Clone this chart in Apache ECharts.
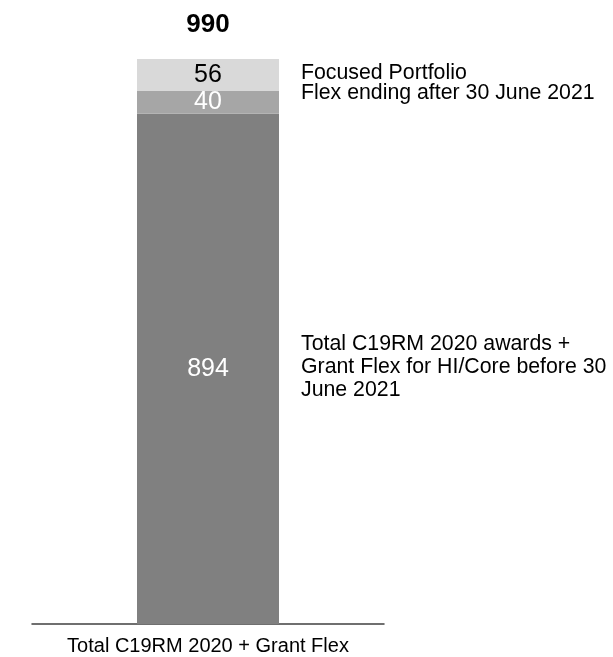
<!DOCTYPE html>
<html>
<head>
<meta charset="utf-8">
<script src="https://cdn.jsdelivr.net/npm/echarts@6/dist/echarts.min.js"></script>
<style>
html,body{margin:0;padding:0;background:#fff;}
#chart{width:613px;height:657px;}
</style>
</head>
<body>
<div id="chart"></div>
<script>
var categories = ['Total C19RM 2020 + Grant Flex'];
var seriesNames = ['Total C19RM 2020 awards + Grant Flex for HI/Core before 30 June 2021', 'Flex ending after 30 June 2021', 'Focused Portfolio'];
var baseValues = [894];
var flexValues = [40];
var focusedValues = [56];
var segmentLabels = ['Total C19RM 2020 awards +\nGrant Flex for HI/Core before 30\nJune 2021', 'Flex ending after 30 June 2021', 'Focused Portfolio'];

var allSeries = [baseValues, flexValues, focusedValues];
var colors = ['#808080', '#a6a6a6', '#d9d9d9'];
var labelColors = ['#ffffff', '#ffffff', '#000000'];
var labelDy = [-2, -9, -2];
var totals = categories.map(function (c, i) {
  return allSeries.reduce(function (s, arr) { return s + arr[i]; }, 0);
});

var FONT = '"Liberation Sans", Arial, Helvetica, sans-serif';
var chart = echarts.init(document.getElementById('chart'), null, {renderer: 'canvas'});

var series = allSeries.map(function (arr, k) {
  return {
    name: seriesNames[k],
    type: 'bar',
    stack: 'total',
    data: arr,
    barWidth: 142,
    itemStyle: {color: colors[k]},
    label: {
      show: true,
      position: 'inside',
      color: labelColors[k],
      fontSize: 25,
      fontFamily: FONT
    },
    emphasis: {disabled: true},
    animation: false
  };
});

chart.setOption({
  animation: false,
  grid: {left: 32, right: 229, top: 59, bottom: 33},
  xAxis: {
    type: 'category',
    data: categories,
    axisLine: {show: true, lineStyle: {color: '#404040', width: 1.5}},
    axisTick: {show: false},
    axisLabel: {color: '#000', fontSize: 20, fontFamily: FONT, margin: 12}
  },
  yAxis: {
    type: 'value',
    min: 0,
    max: totals[0],
    show: false,
    splitLine: {show: false}
  },
  series: series
});

// side labels and total placed via the library's scales
var graphics = [];
var cum = 0;
var xc = chart.convertToPixel({xAxisIndex: 0}, categories[0]);
var barRight = xc + 71;
allSeries.forEach(function (arr, k) {
  var v = arr[0];
  var yc = chart.convertToPixel({yAxisIndex: 0}, cum + v / 2);
  cum += v;
  graphics.push({
    type: 'text',
    x: barRight + 22,
    y: yc + labelDy[k],
    style: {
      text: segmentLabels[k],
      fill: '#000',
      font: '21.3px ' + FONT,
      lineHeight: 23,
      verticalAlign: 'middle'
    }
  });
});
var yTop = chart.convertToPixel({yAxisIndex: 0}, totals[0]);
graphics.push({
  type: 'text',
  x: xc,
  y: yTop - 34,
  style: {
    text: String(totals[0]),
    fill: '#000',
    font: 'bold 26px ' + FONT,
    align: 'center',
    verticalAlign: 'middle'
  }
});
chart.setOption({graphic: graphics});
</script>
</body>
</html>
